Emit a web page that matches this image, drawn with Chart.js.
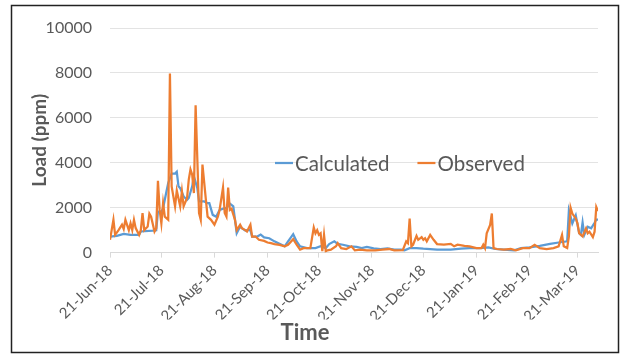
<!DOCTYPE html>
<html>
<head>
<meta charset="utf-8">
<script src="https://cdn.jsdelivr.net/npm/chart.js@4.4.1/dist/chart.umd.min.js"></script>
<style>
  html, body { margin: 0; padding: 0; background: #fff; }
  #wrap { width: 620px; height: 354px; position: relative; }
</style>
</head>
<body>
<div id="wrap"><canvas id="graph"></canvas></div>
<script>
// days counted from 21-Jun-18
const tickDays = [0, 30, 61, 92, 122, 153, 183, 214, 245, 273];
const tickLabels = ['21-Jun-18', '21-Jul-18', '21-Aug-18', '21-Sep-18', '21-Oct-18',
  '21-Nov-18', '21-Dec-18', '21-Jan-19', '21-Feb-19', '21-Mar-19'];

const calcDays = [0, 4, 8, 12, 17, 18, 25, 27, 28, 30, 31, 33, 34, 36, 38, 39, 40, 41, 43, 45,
  46, 48, 49, 51, 52, 55, 57, 58, 60, 62, 64, 67, 68, 70, 72, 73, 74, 76, 77, 79,
  80, 82, 83, 86, 88, 90, 93, 96, 99, 102, 104, 107, 109, 111, 115, 120, 123, 126, 128, 131,
  133, 136, 140, 144, 147, 150, 154, 158, 162, 166, 170, 172, 175, 179, 183, 187, 191, 199, 205, 210,
  216, 221, 225, 230, 236, 240, 245, 251, 257, 262, 267, 268, 270, 272, 274, 275, 276, 277, 279, 281,
  283, 284, 285];
const calcLoad = [715, 745, 830, 790, 790, 940, 980, 1000, 1830, 1800, 1980, 2730, 3100, 3520, 3520, 3600, 2950, 2870, 2500, 2350,
  2430, 2950, 3400, 2870, 2280, 2280, 2200, 2200, 1680, 1600, 1900, 1980, 1980, 2180, 2060, 1460, 860, 1160, 1090, 980,
  1000, 1000, 715, 715, 800, 680, 640, 500, 390, 280, 500, 820, 500, 280, 200, 200, 280, 200, 380, 500,
  390, 350, 280, 250, 200, 250, 190, 160, 190, 130, 130, 100, 200, 200, 175, 160, 130, 130, 175, 200,
  200, 230, 160, 130, 100, 200, 230, 300, 390, 450, 500, 1880, 1300, 1660, 860, 790, 1340, 790, 1150, 1080,
  1330, 1470, 1470];

const obsDays = [0, 2, 3, 5, 7, 8, 9, 11, 12, 13, 14, 15, 17, 18, 19, 20, 22, 23, 24, 26,
  27, 28, 29, 30, 31, 32, 34, 35, 36, 38, 39, 41, 42, 43, 45, 46, 47, 48, 49, 50,
  52, 53, 54, 56, 57, 59, 61, 63, 64, 66, 67, 68, 69, 70, 71, 73, 74, 76, 77, 79,
  80, 82, 83, 85, 87, 90, 92, 94, 96, 99, 102, 104, 107, 109, 111, 113, 117, 119, 120, 121,
  122, 123, 124, 125, 126, 127, 129, 132, 133, 135, 138, 141, 143, 146, 150, 155, 159, 163, 166, 171,
  173, 174, 175, 176, 177, 179, 180, 182, 183, 184, 185, 187, 189, 191, 195, 199, 201, 203, 207, 210,
  214, 217, 218, 219, 220, 222, 223, 224, 226, 230, 234, 237, 241, 245, 248, 251, 255, 259, 262, 264,
  265, 267, 268, 269, 270, 272, 273, 274, 276, 278, 279, 280, 282, 283, 284, 285];
const obsLoad = [570, 1460, 790, 1000, 1240, 1050, 1460, 1000, 1300, 1000, 1460, 1090, 790, 1000, 1760, 1000, 1160, 1730, 1600, 940,
  1090, 3200, 1900, 1300, 2200, 1600, 1460, 7970, 2950, 2060, 2760, 2060, 2730, 2060, 2430, 3250, 3700, 3470, 2650, 6560,
  1760, 1460, 3920, 2350, 1600, 1460, 1240, 1600, 1900, 2900, 1760, 1600, 2900, 1900, 1950, 1460, 1000, 1240, 1090, 1000,
  940, 1240, 715, 715, 570, 520, 450, 420, 380, 340, 280, 350, 600, 350, 130, 200, 200, 1120, 860, 1000,
  790, 860, 60, 790, 60, 100, 130, 280, 420, 200, 160, 280, 100, 130, 100, 100, 130, 160, 100, 110,
  500, 420, 1520, 280, 350, 745, 570, 690, 570, 640, 500, 790, 570, 380, 350, 390, 280, 350, 300, 280,
  200, 200, 350, 200, 860, 1230, 1740, 200, 160, 130, 160, 100, 200, 200, 350, 200, 160, 200, 280, 790,
  280, 200, 720, 2000, 1740, 1520, 1300, 860, 720, 1080, 860, 930, 690, 930, 2030, 1850];

const seriesNames = ['Calculated', 'Observed'];
const seriesColors = ['#5B9BD5', '#ED7D31'];

const FONT = 'Lato, "Open Sans", sans-serif';
const GREY = '#595959';

const toPoints = (xs, ys) => xs.map((d, i) => ({ x: d, y: ys[i] }));

// white background, outer frame and the legend that sits inside the plot
const framePlugin = {
  id: 'frame',
  beforeDraw(chart) {
    const ctx = chart.ctx;
    ctx.save();
    ctx.fillStyle = '#fff';
    ctx.fillRect(0, 0, chart.width, chart.height);
    ctx.restore();
  },
  afterDraw(chart) {
    const ctx = chart.ctx;
    ctx.save();
    ctx.strokeStyle = '#222';
    ctx.lineWidth = 1.5;
    ctx.strokeRect(11.5, 5.5, 607, 347);

    ctx.font = '20.5px ' + FONT;
    ctx.textBaseline = 'middle';
    ctx.fillStyle = GREY;
    let x = 275;
    const y = 163;
    chart.data.datasets.forEach(ds => {
      ctx.strokeStyle = ds.borderColor;
      ctx.lineWidth = 2.25;
      ctx.beginPath();
      ctx.moveTo(x, y);
      ctx.lineTo(x + 18, y);
      ctx.stroke();
      ctx.fillText(ds.label, x + 20, y + 1);
      x += 20 + ctx.measureText(ds.label).width + 28;
    });
    ctx.restore();
  }
};

new Chart(document.getElementById('graph'), {
  type: 'line',
  data: {
    datasets: [
      {
        label: seriesNames[0],
        data: toPoints(calcDays, calcLoad),
        borderColor: seriesColors[0],
        backgroundColor: seriesColors[0],
        borderWidth: 2.25,
        pointRadius: 0,
        tension: 0,
        order: 1
      },
      {
        label: seriesNames[1],
        data: toPoints(obsDays, obsLoad),
        borderColor: seriesColors[1],
        backgroundColor: seriesColors[1],
        borderWidth: 2.25,
        pointRadius: 0,
        tension: 0,
        order: 0
      }
    ]
  },
  options: {
    responsive: true,
    maintainAspectRatio: false,
    animation: false,
    layout: { padding: { left: 12, right: 22, top: 28, bottom: 8 } },
    plugins: {
      legend: { display: false },
      tooltip: { enabled: false },
      title: {
        display: true,
        text: 'Time',
        position: 'bottom',
        color: GREY,
        font: { family: FONT, size: 22, weight: 'bold' },
        padding: { top: 0, bottom: 0 }
      }
    },
    scales: {
      x: {
        type: 'linear',
        min: 0,
        max: 285,
        afterBuildTicks: scale => { scale.ticks = tickDays.map(v => ({ value: v })); },
        afterFit: scale => { scale.height = 67; },
        ticks: {
          autoSkip: false,
          minRotation: 45,
          maxRotation: 45,
          padding: 4,
          color: GREY,
          font: { family: FONT, size: 15 },
          callback: v => tickLabels[tickDays.indexOf(v)]
        },
        grid: { drawOnChartArea: false, drawTicks: true, tickLength: 5, color: '#D9D9D9' },
        border: { color: '#D9D9D9' }
      },
      y: {
        min: 0,
        max: 10000,
        afterFit: scale => { scale.width = 98; },
        ticks: {
          stepSize: 2000,
          padding: 18,
          color: GREY,
          font: { family: FONT, size: 16 },
          callback: v => String(v)
        },
        grid: { color: '#E3E3E3', drawTicks: false },
        border: { display: false },
        title: {
          display: true,
          text: 'Load (ppm)',
          color: GREY,
          font: { family: FONT, size: 19, weight: 'bold' },
          padding: { top: 16, bottom: 0 }
        }
      }
    }
  },
  plugins: [framePlugin]
});
</script>
</body>
</html>
